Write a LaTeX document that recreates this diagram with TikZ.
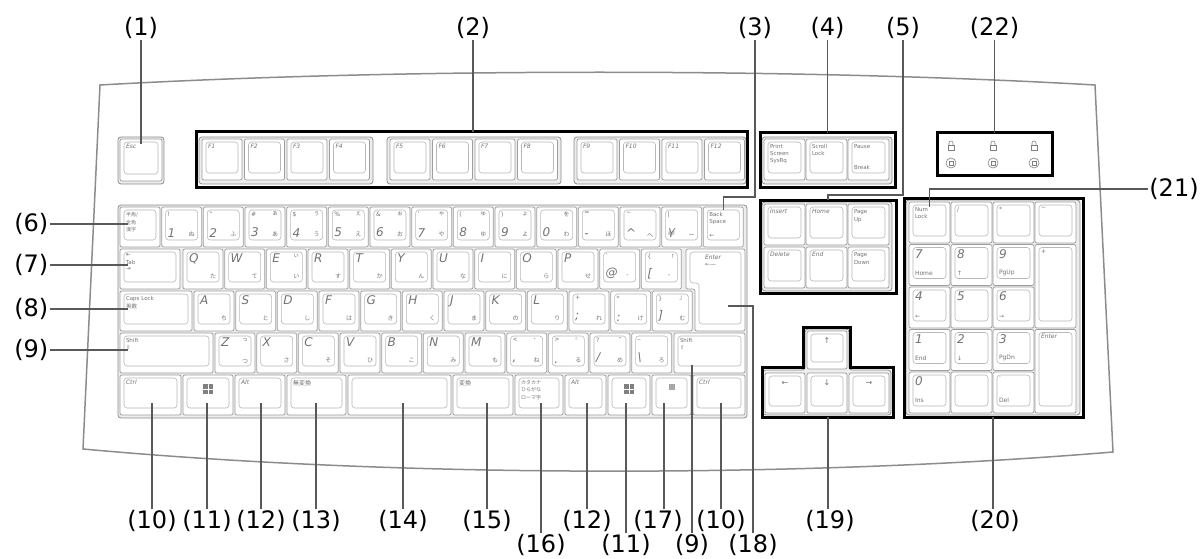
\documentclass[tikz,border=0pt]{standalone}
\usepackage{fontspec}
\setmainfont{DejaVu Sans}
\newfontfamily\jpf{Noto Sans CJK JP}
\newcommand\ks[1]{{\fontsize{6}{6.5}\selectfont #1}}
\newcommand\kL[1]{{\fontsize{12}{12}\selectfont\itshape #1}}
\newcommand\kj[1]{{\jpf\fontsize{6}{6}\selectfont #1}}
\newcommand\kst[1]{{\fontsize{5.5}{6}\selectfont\shortstack[l]{#1}}}
\newcommand\kjst[1]{{\jpf\fontsize{5}{5.5}\selectfont\shortstack[l]{#1}}}
\tikzset{
 kout/.style={draw=black!38, fill=white, rounded corners=2pt, line width=0.7pt, inner sep=0pt, outer sep=0pt},
 kin/.style={draw=black!28, rounded corners=3pt, line width=0.6pt},
 leg/.style={inner sep=0pt, outer sep=0pt, text=black!55},
 gbase/.style={draw=black!45, fill=black!7, rounded corners=3pt, line width=0.8pt},
 tbox/.style={draw=black, line width=3pt, inner sep=0pt, outer sep=0pt, anchor=north west},
 lab/.style={font=\fontsize{24}{24}\selectfont, inner sep=1.5pt},
 leader/.style={draw=black!65, line width=1.4pt},
 body/.style={draw=black!45, line width=1.5pt},
 icon/.style={draw=black!50, line width=0.6pt},
}
% name, x, y, w, h, TL, TR, BL, BR
\newcommand\kk[9]{%
 \node[kout,minimum width=#4,minimum height=#5] (#1) at ({#2+#4/2},{#3+#5/2}) {};
 \draw[kin] ([xshift=4pt,yshift=-3pt]#1.north west) rectangle ([xshift=-4pt,yshift=7pt]#1.south east);
 \node[leg,anchor=north west] (#1-tl) at ([xshift=6pt,yshift=-5pt]#1.north west) {#6};
 \node[leg,anchor=north east] (#1-tr) at ([xshift=-7pt,yshift=-5pt]#1.north east) {#7};
 \node[leg,anchor=south west] (#1-bl) at ([xshift=6pt,yshift=10pt]#1.south west) {#8};
 \node[leg,anchor=south east] (#1-br) at ([xshift=-7pt,yshift=10pt]#1.south east) {#9};
}
\newcommand\winlogo[1]{%
 \fill[black!50] ([xshift=-5pt,yshift=11pt]#1.center) rectangle ++(4.5,4.5);
 \fill[black!50] ([xshift=0.5pt,yshift=11pt]#1.center) rectangle ++(4.5,4.5);
 \fill[black!50] ([xshift=-5pt,yshift=5.5pt]#1.center) rectangle ++(4.5,4.5);
 \fill[black!50] ([xshift=0.5pt,yshift=5.5pt]#1.center) rectangle ++(4.5,4.5);
}
\begin{document}
\begin{tikzpicture}[x=1pt,y=-1pt]
\useasboundingbox (0,0) rectangle (1200,559);
% keyboard body
\draw[body] (100,85) .. controls (400,68) and (800,68) .. (1095,85) -- (1113,452) .. controls (800,478) and (400,478) .. (83,449) -- cycle;

% group bases
\draw[gbase] (118,137) rectangle (164,184);
\draw[gbase] (199,137) rectangle (373,184);
\draw[gbase] (387,137) rectangle (561,184);
\draw[gbase] (574,137) rectangle (746,184);
\draw[gbase] (762,137) rectangle (892,184);
\draw[gbase] (118,205) rectangle (747,418);
\draw[gbase] (762,202) rectangle (892,291);
\draw[gbase] (906,200) rectangle (1080,415);
\draw[gbase] (805,329) -- (849,329) -- (849,370) -- (891,370) -- (891,415) -- (763,415) -- (763,370) -- (805,370) -- cycle;

% function row
\kk{esc}{120}{139}{42}{42}{\ks{\itshape Esc}}{}{}{}
\kk{f1}{202}{139}{40}{41}{\ks{\itshape F1}}{}{}{}
\kk{f2}{244.5}{139}{40}{41}{\ks{\itshape F2}}{}{}{}
\kk{f3}{287}{139}{40}{41}{\ks{\itshape F3}}{}{}{}
\kk{f4}{329.5}{139}{40}{41}{\ks{\itshape F4}}{}{}{}
\kk{f5}{390}{139}{40}{41}{\ks{\itshape F5}}{}{}{}
\kk{f6}{432.5}{139}{40}{41}{\ks{\itshape F6}}{}{}{}
\kk{f7}{475}{139}{40}{41}{\ks{\itshape F7}}{}{}{}
\kk{f8}{517.5}{139}{40}{41}{\ks{\itshape F8}}{}{}{}
\kk{f9}{577}{139}{40}{41}{\ks{\itshape F9}}{}{}{}
\kk{f10}{619.5}{139}{40}{41}{\ks{\itshape F10}}{}{}{}
\kk{f11}{662}{139}{40}{41}{\ks{\itshape F11}}{}{}{}
\kk{f12}{704.5}{139}{40}{41}{\ks{\itshape F12}}{}{}{}
\kk{prt}{764}{139}{41}{41}{\kst{Print\\Screen\\SysRq}}{}{}{}
\kk{scr}{806}{139}{41}{41}{\kst{Scroll\\Lock}}{}{}{}
\kk{pau}{848}{139}{41}{41}{\kst{Pause}}{}{\kst{Break}}{}

% row 1
\kk{zen}{120}{207}{40}{40}{\kjst{半角/\\全角\\漢字}}{}{}{}
\kk{k1}{161.67}{207}{40}{40}{\ks{!}}{}{\kL{1}}{\kj{ぬ}}
\kk{k2}{203.33}{207}{40}{40}{\ks{"}}{}{\kL{2}}{\kj{ふ}}
\kk{k3}{245}{207}{40}{40}{\ks{\#}}{\kj{ぁ}}{\kL{3}}{\kj{あ}}
\kk{k4}{286.67}{207}{40}{40}{\ks{\$}}{\kj{ぅ}}{\kL{4}}{\kj{う}}
\kk{k5}{328.33}{207}{40}{40}{\ks{\%}}{\kj{ぇ}}{\kL{5}}{\kj{え}}
\kk{k6}{370}{207}{40}{40}{\ks{\&}}{\kj{ぉ}}{\kL{6}}{\kj{お}}
\kk{k7}{411.67}{207}{40}{40}{\ks{'}}{\kj{ゃ}}{\kL{7}}{\kj{や}}
\kk{k8}{453.33}{207}{40}{40}{\ks{(}}{\kj{ゅ}}{\kL{8}}{\kj{ゆ}}
\kk{k9}{495}{207}{40}{40}{\ks{)}}{\kj{ょ}}{\kL{9}}{\kj{よ}}
\kk{k0}{536.67}{207}{40}{40}{}{\kj{を}}{\kL{0}}{\kj{わ}}
\kk{kmin}{578.33}{207}{40}{40}{\ks{=}}{}{\kL{-}}{\kj{ほ}}
\kk{kcar}{620}{207}{40}{40}{\ks{\textasciitilde}}{}{\kL{\textasciicircum}}{\kj{へ}}
\kk{kyen}{661.67}{207}{40}{40}{\ks{|}}{}{\kL{¥}}{\kj{ー}}
\kk{bs}{703.33}{207}{40}{40}{\kst{Back\\Space}}{}{\ks{←}}{}

% row 2
\kk{tab}{120}{249}{60}{40}{\kst{⇤\\Tab\\⇥}}{}{}{}
\kk{q}{183}{249}{40}{40}{\kL{Q}}{}{}{\kj{た}}
\kk{w}{224.67}{249}{40}{40}{\kL{W}}{}{}{\kj{て}}
\kk{e}{266.33}{249}{40}{40}{\kL{E}}{\kj{ぃ}}{}{\kj{い}}
\kk{r}{308}{249}{40}{40}{\kL{R}}{}{}{\kj{す}}
\kk{t}{349.67}{249}{40}{40}{\kL{T}}{}{}{\kj{か}}
\kk{y}{391.33}{249}{40}{40}{\kL{Y}}{}{}{\kj{ん}}
\kk{u}{433}{249}{40}{40}{\kL{U}}{}{}{\kj{な}}
\kk{i}{474.67}{249}{40}{40}{\kL{I}}{}{}{\kj{に}}
\kk{o}{516.33}{249}{40}{40}{\kL{O}}{}{}{\kj{ら}}
\kk{p}{558}{249}{40}{40}{\kL{P}}{}{}{\kj{せ}}
\kk{at}{599.67}{249}{40}{40}{\ks{\textasciigrave}}{}{\kL{@}}{\kj{゛}}
\kk{lbr}{641.33}{249}{40}{40}{\ks{\{}}{\kj{「}}{\kL{[}}{\kj{゜}}
% Enter
\draw[kout] (686,249) -- (745,249) -- (745,331) -- (695,331) -- (695,289) -- (686,289) -- cycle;
\draw[kin] (690,252) -- (741,252) -- (741,324) -- (699,324) -- (699,283) -- (690,283) -- cycle;
\node[leg,anchor=north west] (ent-tl) at (705,255) {\ks{\itshape Enter}};
\node[leg,anchor=north west] (ent-ar) at (705,263) {\ks{←—}};
\coordinate (entpt) at (728,306);

% row 3
\kk{caps}{120}{291}{72}{40}{\kst{Caps Lock\\{\jpf 英数}}}{}{}{}
\kk{a}{194}{291}{40}{40}{\kL{A}}{}{}{\kj{ち}}
\kk{s}{235.67}{291}{40}{40}{\kL{S}}{}{}{\kj{と}}
\kk{d}{277.33}{291}{40}{40}{\kL{D}}{}{}{\kj{し}}
\kk{f}{319}{291}{40}{40}{\kL{F}}{}{}{\kj{は}}
\kk{g}{360.67}{291}{40}{40}{\kL{G}}{}{}{\kj{き}}
\kk{h}{402.33}{291}{40}{40}{\kL{H}}{}{}{\kj{く}}
\kk{j}{444}{291}{40}{40}{\kL{J}}{}{}{\kj{ま}}
\kk{k}{485.67}{291}{40}{40}{\kL{K}}{}{}{\kj{の}}
\kk{l}{527.33}{291}{40}{40}{\kL{L}}{}{}{\kj{り}}
\kk{semi}{569}{291}{40}{40}{\ks{+}}{}{\kL{;}}{\kj{れ}}
\kk{colon}{610.67}{291}{40}{40}{\ks{*}}{}{\kL{:}}{\kj{け}}
\kk{rbr}{652.33}{291}{40}{40}{\ks{\}}}{\kj{」}}{\kL{]}}{\kj{む}}

% row 4
\kk{lsh}{120}{333}{93}{40}{\kst{Shift\\⇧}}{}{}{}
\kk{z}{215}{333}{40}{40}{\kL{Z}}{\kj{っ}}{}{\kj{つ}}
\kk{x}{256.67}{333}{40}{40}{\kL{X}}{}{}{\kj{さ}}
\kk{c}{298.33}{333}{40}{40}{\kL{C}}{}{}{\kj{そ}}
\kk{v}{340}{333}{40}{40}{\kL{V}}{}{}{\kj{ひ}}
\kk{b}{381.67}{333}{40}{40}{\kL{B}}{}{}{\kj{こ}}
\kk{n}{423.33}{333}{40}{40}{\kL{N}}{}{}{\kj{み}}
\kk{m}{465}{333}{40}{40}{\kL{M}}{}{}{\kj{も}}
\kk{comma}{506.67}{333}{40}{40}{\ks{<}}{\kj{、}}{\kL{,}}{\kj{ね}}
\kk{period}{548.33}{333}{40}{40}{\ks{>}}{\kj{。}}{\kL{.}}{\kj{る}}
\kk{slash}{590}{333}{40}{40}{\ks{?}}{\kj{・}}{\kL{/}}{\kj{め}}
\kk{bsl}{631.67}{333}{40}{40}{\ks{\_}}{}{\kL{\textbackslash}}{\kj{ろ}}
\kk{rsh}{674}{333}{71}{40}{\kst{Shift\\⇧}}{}{}{}

% row 5
\kk{lctrl}{120}{375}{61}{40}{\ks{\itshape Ctrl}}{}{}{}
\kk{lwin}{183}{375}{50}{40}{}{}{}{}
\kk{lalt}{235}{375}{50}{40}{\ks{\itshape Alt}}{}{}{}
\kk{muhen}{287}{375}{59}{40}{\kj{無変換}}{}{}{}
\kk{space}{348}{375}{103}{40}{}{}{}{}
\kk{henk}{453}{375}{60}{40}{\kj{変換}}{}{}{}
\kk{kana}{515}{375}{48}{40}{\kjst{カタカナ\\ひらがな\\ローマ字}}{}{}{}
\kk{ralt}{565}{375}{41}{40}{\ks{\itshape Alt}}{}{}{}
\kk{rwin}{608}{375}{42}{40}{}{}{}{}
\kk{app}{652}{375}{39}{40}{}{}{}{}
\kk{rctrl}{693}{375}{52}{40}{\ks{\itshape Ctrl}}{}{}{}
\winlogo{lwin}
\winlogo{rwin}
\fill[black!35] ([xshift=-3pt,yshift=11pt]app.center) rectangle ++(6,6);

% navigation
\kk{ins}{764}{204}{41}{41}{\ks{\itshape Insert}}{}{}{}
\kk{home}{806}{204}{41}{41}{\ks{\itshape Home}}{}{}{}
\kk{pgup}{848}{204}{41}{41}{\kst{Page\\Up}}{}{}{}
\kk{del}{764}{247}{41}{41}{\ks{\itshape Delete}}{}{}{}
\kk{end}{806}{247}{41}{41}{\ks{\itshape End}}{}{}{}
\kk{pgdn}{848}{247}{41}{41}{\kst{Page\\Down}}{}{}{}

% arrows
\kk{up}{807}{331}{40}{38}{}{}{}{}
\kk{left}{765}{373}{40}{40}{}{}{}{}
\kk{down}{807}{373}{40}{40}{}{}{}{}
\kk{right}{849}{373}{40}{40}{}{}{}{}
\node[leg] (up-a) at ([yshift=-10pt]up.north) {\fontsize{8}{8}\selectfont ↑};
\node[leg] (left-a) at ([yshift=-10pt]left.north) {\fontsize{8}{8}\selectfont ←};
\node[leg] (down-a) at ([yshift=-10pt]down.north) {\fontsize{8}{8}\selectfont ↓};
\node[leg] (right-a) at ([yshift=-10pt]right.north) {\fontsize{8}{8}\selectfont →};

% numeric keypad
\kk{numlk}{909}{202}{41}{41}{\kst{Num\\Lock}}{}{}{}
\kk{nsl}{951}{202}{41}{41}{\ks{/}}{}{}{}
\kk{nst}{993}{202}{41}{41}{\ks{*}}{}{}{}
\kk{nmi}{1035}{202}{41}{41}{\ks{−}}{}{}{}
\kk{n7}{909}{244.5}{41}{41}{\kL{7}}{}{\ks{Home}}{}
\kk{n8}{951}{244.5}{41}{41}{\kL{8}}{}{\ks{↑}}{}
\kk{n9}{993}{244.5}{41}{41}{\kL{9}}{}{\ks{PgUp}}{}
\kk{nplus}{1035}{244.5}{41}{83.5}{\ks{+}}{}{}{}
\kk{n4}{909}{287}{41}{41}{\kL{4}}{}{\ks{←}}{}
\kk{n5}{951}{287}{41}{41}{\kL{5}}{}{}{}
\kk{n6}{993}{287}{41}{41}{\kL{6}}{}{\ks{→}}{}
\kk{n1}{909}{329.5}{41}{41}{\kL{1}}{}{\ks{End}}{}
\kk{n2}{951}{329.5}{41}{41}{\kL{2}}{}{\ks{↓}}{}
\kk{n3}{993}{329.5}{41}{41}{\kL{3}}{}{\ks{PgDn}}{}
\kk{nent}{1035}{329.5}{41}{83.5}{\ks{\itshape Enter}}{}{}{}
\kk{n0}{909}{372}{41}{41}{\kL{0}}{}{\ks{Ins}}{}
\kk{nbl}{951}{372}{41}{41}{}{}{}{}
\kk{ndot}{993}{372}{41}{41}{\ks{.}}{}{\ks{Del}}{}

% LED panel icons
\foreach \lx in {951,993,1034}{
  \draw[icon] (\lx-3,150) rectangle (\lx+3,145);
  \draw[icon] (\lx-2,145) -- (\lx-2,143) arc[start angle=180, end angle=360, radius=2] -- (\lx+2,145);
  \draw[icon] (\lx,163) circle[radius=5];
  \draw[icon] (\lx-2,161) rectangle (\lx+2,165);
}

% thick group frames
\node[tbox, minimum width=551, minimum height=56] (fbox) at (196,132) {};
\node[tbox, minimum width=135, minimum height=55] (prbox) at (760,133) {};
\node[tbox, minimum width=115, minimum height=43] (ledbox) at (937,133) {};
\node[tbox, minimum width=136, minimum height=93] (navbox) at (760,200) {};
\node[tbox, minimum width=179, minimum height=219] (numbox) at (904,198) {};
\draw[draw=black, line width=3pt] (762,367) -- (803,367) -- (803,327) -- (850,327) -- (850,367) -- (893,367) -- (893,417) -- (762,417) -- cycle;
\coordinate (arrB) at (828,417);

% top labels
\node[lab] (l1) at (141,28) {(1)};
\node[lab] (l2) at (473,28) {(2)};
\node[lab] (l3) at (755,28) {(3)};
\node[lab] (l4) at (827.5,28) {(4)};
\node[lab] (l5) at (903,28) {(5)};
\node[lab] (l22) at (994.5,28) {(22)};
\node[lab] (l21) at (1174,189) {(21)};
\coordinate (c3) at (755,197);
\coordinate (c5) at (903,195);
\draw[leader, shorten >=-5pt] (l1.south) -- (l1.south |- esc.north);
\draw[leader] (l2.south) -- (l2.south |- fbox.north);
\draw[leader] (l3.south) -- (c3) -| ([yshift=-3pt]bs.north);
\draw[leader] (l4.south) -- (l4.south |- prbox.north);
\draw[leader] (l5.south) -- (c5) -| (navbox.north);
\draw[leader] (l22.south) -- (l22.south |- ledbox.north);
\draw[leader] (l21.west) -| ([yshift=-5pt]numlk.north);

% left labels
\node[lab, anchor=east] (l6) at (50,224) {(6)};
\node[lab, anchor=east] (l7) at (50,265) {(7)};
\node[lab, anchor=east] (l8) at (50,309) {(8)};
\node[lab, anchor=east] (l9a) at (50,350) {(9)};
\draw[leader, shorten >=-8pt] (l6.east) -- (l6.east -| zen.west);
\draw[leader, shorten >=-8pt] (l7.east) -- (l7.east -| tab.west);
\draw[leader, shorten >=-8pt] (l8.east) -- (l8.east -| caps.west);
\draw[leader, shorten >=-8pt] (l9a.east) -- (l9a.east -| lsh.west);

% bottom labels, first line
\node[lab] (l10a) at (152,521) {(10)};
\node[lab] (l11a) at (207,521) {(11)};
\node[lab] (l12a) at (261,521) {(12)};
\node[lab] (l13) at (316,521) {(13)};
\node[lab] (l14) at (403,521) {(14)};
\node[lab] (l15) at (487,521) {(15)};
\node[lab] (l12b) at (587,521) {(12)};
\node[lab] (l17) at (658,521) {(17)};
\node[lab] (l10b) at (721,521) {(10)};
\node[lab] (l19) at (830,521) {(19)};
\node[lab] (l20) at (995,521) {(20)};
% second line
\node[lab] (l16) at (541,545) {(16)};
\node[lab] (l11b) at (626,545) {(11)};
\node[lab] (l9b) at (692,545) {(9)};
\node[lab] (l18) at (753,545) {(18)};

\draw[leader, shorten >=8pt] (l10a.north) -- (l10a.north |- lctrl.center);
\draw[leader, shorten >=8pt] (l11a.north) -- (l11a.north |- lwin.center);
\draw[leader, shorten >=8pt] (l12a.north) -- (l12a.north |- lalt.center);
\draw[leader, shorten >=8pt] (l13.north) -- (l13.north |- muhen.center);
\draw[leader, shorten >=8pt] (l14.north) -- (l14.north |- space.center);
\draw[leader, shorten >=8pt] (l15.north) -- (l15.north |- henk.center);
\draw[leader, shorten >=8pt] (l16.north) -- (l16.north |- kana.center);
\draw[leader, shorten >=8pt] (l12b.north) -- (l12b.north |- ralt.center);
\draw[leader, shorten >=8pt] (l11b.north) -- (l11b.north |- rwin.center);
\draw[leader, shorten >=8pt] ([xshift=6pt]l17.north) -- ([xshift=6pt]l17.north |- app.center);
\draw[leader, shorten >=12pt] (l9b.north) -- (l9b.north |- rsh.center);
\draw[leader, shorten >=8pt] (l10b.north) -- (l10b.north |- rctrl.center);
\draw[leader] (l18.north) -- (l18.north |- entpt) -- (entpt);
\draw[leader] ([xshift=-2pt]l19.north) -- ([xshift=-2pt]l19.north |- arrB);
\draw[leader] ([xshift=-2pt]l20.north) -- ([xshift=-2pt]l20.north |- numbox.south);
\end{tikzpicture}
\end{document}
